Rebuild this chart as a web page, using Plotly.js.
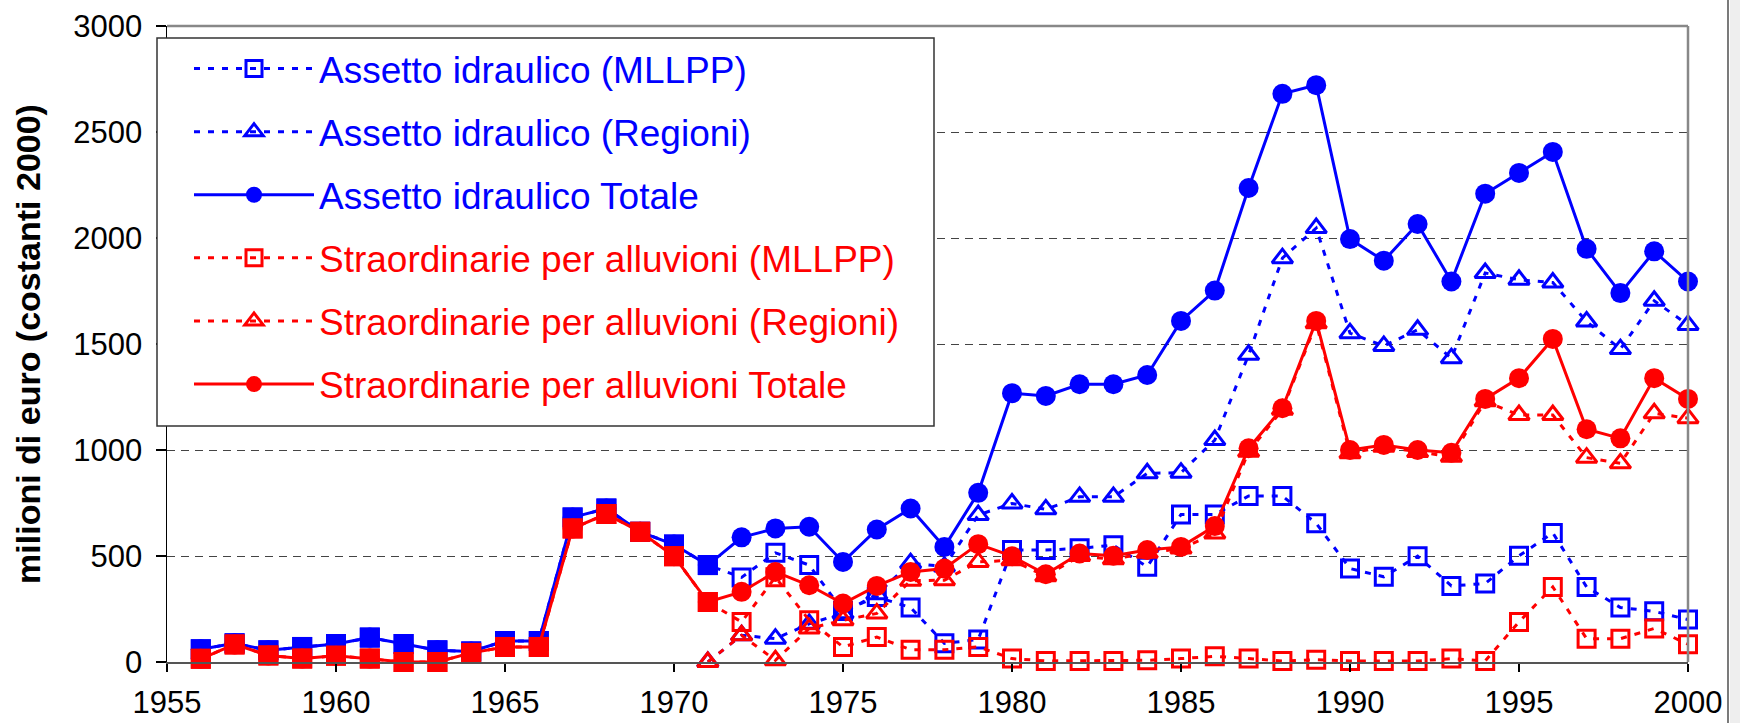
<!DOCTYPE html>
<html><head><meta charset="utf-8">
<script src="https://cdn.plot.ly/plotly-3.0.1.min.js"></script>
<style>body{margin:0;background:#fff}#chart{width:1740px;height:723px}</style>
</head><body><div id="chart"></div>
<script>
// ---- data (milioni di euro, costanti 2000) ----
const years = [1956,1957,1958,1959,1960,1961,1962,1963,1964,1965,1966,1967,1968,1969,1970,
  1971,1972,1973,1974,1975,1976,1977,1978,1979,1980,1981,1982,1983,1984,1985,1986,1987,1988,
  1989,1990,1991,1992,1993,1994,1995,1996,1997,1998,1999,2000];
const seriesNames = [
  "Assetto idraulico (MLLPP)",
  "Assetto idraulico (Regioni)",
  "Assetto idraulico Totale",
  "Straordinarie per alluvioni (MLLPP)",
  "Straordinarie per alluvioni (Regioni)",
  "Straordinarie per alluvioni Totale"
];
const assettoMLLPP = [60,88,55,71,85,115,85,55,50,99,99,682,724,614,554,
  457,399,515,457,240,307,257,88,106,528,528,536,551,449,696,696,783,783,
  654,441,402,499,359,370,501,609,354,257,239,200];
const assettoRegioni = [null,null,null,null,null,null,null,null,null,null,null,null,null,null,null,
  0,126,110,180,230,320,466,450,693,748,720,779,779,890,893,1047,1449,1905,
  2047,1551,1491,1567,1433,1835,1803,1790,1606,1476,1704,1590];
const assettoTotale = [60,88,55,71,85,115,85,55,50,99,99,682,724,614,554,
  457,588,630,638,472,625,724,543,798,1268,1255,1310,1310,1354,1609,1752,2236,2680,
  2721,1995,1893,2066,1795,2209,2307,2406,1949,1740,1937,1795];
const alluvioniMLLPP = [15,83,31,16,30,16,0,0,43,71,71,630,698,614,499,
  283,189,400,197,71,118,58,58,71,16,5,5,5,8,16,27,16,5,
  11,5,5,5,16,5,189,354,110,110,158,84];
const alluvioniRegioni = [null,null,null,null,null,null,null,null,null,null,null,null,null,null,null,
  0,126,8,158,197,229,383,386,472,480,405,500,485,515,535,606,992,1190,
  1598,985,1015,990,968,1230,1165,1165,964,937,1173,1150];
const alluvioniTotale = [15,83,31,16,30,16,0,0,43,71,71,630,698,614,499,
  283,331,425,362,276,359,425,441,556,499,414,512,501,528,543,641,1008,1197,
  1609,1000,1024,1000,987,1241,1339,1524,1098,1055,1339,1241];
const earlyCount = 16; // 1956-1971 drawn with filled square markers

const BLUE = '#0000FF', RED = '#FF0000';
const DOTS = '6px,8px';
const FONT = 'Liberation Sans, Arial, sans-serif';

function open(name, y, color, symbol, size, group) {
  return {x: years, y: y, name: name, type: 'scatter', mode: 'lines+markers',
    legendgroup: group, cliponaxis: false, connectgaps: false,
    line: {color: color, width: 3, dash: DOTS},
    marker: {symbol: symbol, size: size, color: color, line: {width: 3, color: color}}};
}
function total(name, y, color, group) {
  return {x: years, y: y, name: name, type: 'scatter', mode: 'lines+markers',
    legendgroup: group, cliponaxis: false,
    line: {color: color, width: 3},
    marker: {symbol: 'circle', size: 20, color: color}};
}
function early(y, color, group) {
  return {x: years.slice(0, earlyCount), y: y.slice(0, earlyCount), type: 'scatter',
    mode: 'markers', showlegend: false, hoverinfo: 'skip', legendgroup: group, cliponaxis: false,
    marker: {symbol: 'square', size: 20, color: color}};
}
function colored(t, c) { return '<span style="color:' + c + '">' + t + '</span>'; }

const data = [
  open(colored(seriesNames[0], BLUE), assettoMLLPP, BLUE, 'square-open', 17, 'g1'),
  open(colored(seriesNames[1], BLUE), assettoRegioni, BLUE, 'triangle-up-open', 18, 'g2'),
  total(colored(seriesNames[2], BLUE), assettoTotale, BLUE, 'g3'),
  early(assettoTotale, BLUE, 'g3'),
  open(colored(seriesNames[3], RED), alluvioniMLLPP, RED, 'square-open', 17, 'g4'),
  open(colored(seriesNames[4], RED), alluvioniRegioni, RED, 'triangle-up-open', 18, 'g5'),
  total(colored(seriesNames[5], RED), alluvioniTotale, RED, 'g6'),
  early(alluvioniTotale, RED, 'g6')
];

// pixel helpers for layout decorations
const W = 1740, H = 723, ML = 167, MR = 52, MT = 26, MB = 61;
const PW = W - ML - MR, PH = H - MT - MB;
const px = x => (x - ML) / PW;
const py = y => 1 - (y - MT) / PH;

const shapes = [
  // legend frame
  {type: 'rect', xref: 'paper', yref: 'paper', x0: px(157), x1: px(934), y0: py(38), y1: py(426),
   line: {color: '#333333', width: 1.5}, fillcolor: '#FFFFFF', layer: 'above'},
  // plot area border (top & right)
  {type: 'line', xref: 'paper', yref: 'paper', x0: 0, x1: 1, y0: 1, y1: 1, line: {color: '#888888', width: 2.5}},
  {type: 'line', xref: 'paper', yref: 'paper', x0: 1, x1: 1, y0: 0, y1: 1, line: {color: '#888888', width: 2.5}},
  // outer chart frame edge
  {type: 'line', xref: 'paper', yref: 'paper', x0: px(1728), x1: px(1728), y0: py(0), y1: py(723), line: {color: '#222222', width: 1.2}},
  {type: 'rect', xref: 'paper', yref: 'paper', x0: px(1730), x1: px(1741), y0: py(0), y1: py(723), line: {width: 0}, fillcolor: '#EEEEEE'}
];

const layout = {
  width: W, height: H,
  margin: {l: ML, r: MR, t: MT, b: MB, pad: 0},
  paper_bgcolor: '#FFFFFF', plot_bgcolor: '#FFFFFF',
  font: {family: FONT, color: '#000000', size: 31},
  showlegend: true,
  legend: {x: px(189), y: py(38), xanchor: 'left', yanchor: 'top', itemwidth: 120,
    bgcolor: 'rgba(0,0,0,0)', borderwidth: 0, traceorder: 'grouped', tracegroupgap: 12,
    font: {family: FONT, size: 37, color: '#0000FF'}},
  xaxis: {range: [1955, 2000], tick0: 1955, dtick: 5, showgrid: false, zeroline: false,
    showline: true, linecolor: '#555555', linewidth: 2, ticks: 'outside', ticklen: 8,
    tickcolor: '#000000', tickwidth: 1.2, ticklabelstandoff: 4,
    tickfont: {family: FONT, size: 31, color: '#000000'}},
  yaxis: {range: [0, 3000], dtick: 500, showgrid: true, gridcolor: '#444444', gridwidth: 1,
    griddash: '8px,6px', zeroline: false, showline: true, linecolor: '#000000', linewidth: 1.5,
    ticks: 'outside', ticklen: 10, tickcolor: '#000000', tickwidth: 1.2,
    ticklabelstandoff: 7,
    tickfont: {family: FONT, size: 31, color: '#000000'},
    title: {text: 'milioni di euro (costanti 2000)', standoff: 22,
      font: {family: FONT, size: 34, color: '#000000', weight: 'bold'}}},
  shapes: shapes
};

Plotly.newPlot('chart', data, layout, {displayModeBar: false, staticPlot: true});
</script>
</body></html>
